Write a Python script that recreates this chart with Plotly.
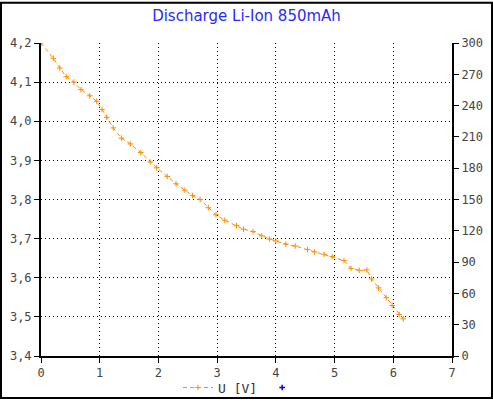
import plotly.graph_objects as go

# discharge curve, time [h] vs voltage [V]
time_h = [0.0, 0.21, 0.32, 0.43, 0.56, 0.68, 0.83, 0.95, 1.04, 1.12, 1.23, 1.37, 1.52,
          1.70, 1.86, 1.97, 2.15, 2.30, 2.45, 2.58, 2.71, 2.85, 2.98, 3.13, 3.33,
          3.45, 3.61, 3.76, 3.89, 4.00, 4.17, 4.33, 4.54, 4.66, 4.82, 4.96, 5.16,
          5.28, 5.42, 5.55, 5.63, 5.75, 5.88, 5.98, 6.10, 6.17]
voltage = [4.200, 4.161, 4.136, 4.114, 4.100, 4.081, 4.065, 4.051, 4.030, 4.010,
           3.983, 3.957, 3.942, 3.920, 3.896, 3.881, 3.859, 3.840, 3.824, 3.810,
           3.800, 3.779, 3.761, 3.747, 3.733, 3.724, 3.718, 3.707, 3.699, 3.694,
           3.686, 3.681, 3.672, 3.666, 3.660, 3.654, 3.644, 3.624, 3.619, 3.620,
           3.597, 3.574, 3.549, 3.529, 3.506, 3.495]

W, H = 493, 415
L, R, T, B = 41, 41, 43, 45
pw, ph = W - L - R, H - T - B

tick_font = dict(family="DejaVu Sans Mono", size=12, color="#444444")
grid_dash = "1px,3px"

fig = go.Figure()

fig.add_trace(go.Scatter(
    x=time_h, y=voltage, name="U [V]", mode="lines+markers",
    line=dict(color="#ff8c00", width=1, dash="4px,3px"),
    marker=dict(symbol="cross-thin", size=4, color="#ff8c00",
                line=dict(color="#ff8c00", width=1)),
))
# empty second series, only visible in the legend
fig.add_trace(go.Scatter(
    x=[None], y=[None], name=" ", mode="markers", yaxis="y2",
    marker=dict(symbol="cross-thin", size=4, color="#0000ff",
                line=dict(color="#0000ff", width=1.5)),
))

fig.update_layout(
    width=W, height=H, autosize=False,
    margin=dict(l=L, r=R, t=T, b=B),
    paper_bgcolor="white", plot_bgcolor="white",
    separators=", ",
    title=dict(text="Discharge Li-Ion 850mAh", x=0.5, xanchor="center",
               y=1 - 16 / H, yanchor="middle",
               font=dict(family="DejaVu Sans", size=15, color="#2a2aff")),
    showlegend=True,
    legend=dict(orientation="h", x=0.5, xanchor="center",
                y=-(403 - 370) / ph, yanchor="middle",
                font=dict(family="DejaVu Sans Mono", size=13, color="#333333"),
                itemwidth=30, bgcolor="rgba(0,0,0,0)"),
    xaxis=dict(range=[0, 7], dtick=1, showgrid=True, gridcolor="black",
               griddash=grid_dash, gridwidth=1, zeroline=False,
               showline=True, linecolor="black", linewidth=2,
               ticks="outside", ticklen=5, tickcolor="black",
               tickfont=tick_font, automargin=False),
    yaxis=dict(range=[3.4, 4.2], dtick=0.1, tickformat=".1f",
               showgrid=True, gridcolor="black", griddash=grid_dash, gridwidth=1,
               zeroline=False, showline=True, linecolor="black", linewidth=2,
               ticks="outside", ticklen=5, tickcolor="black",
               tickfont=tick_font, automargin=False),
    yaxis2=dict(range=[0, 300], dtick=30, overlaying="y", side="right",
                showgrid=False, zeroline=False, showline=True,
                linecolor="black", linewidth=2, ticks="outside", ticklen=5,
                tickcolor="black", tickfont=tick_font, automargin=False),
)

# black frame round the whole picture
fig.add_shape(type="rect", xref="paper", yref="paper",
              x0=-(L - 1) / pw, x1=1 + (R - 1) / pw,
              y0=-(B - 1) / ph, y1=1 + (T - 1) / ph,
              line=dict(color="black", width=2), layer="above")

# drop the default page margin so the chart sits at the window corner
fig.write_html(
    "out.html",
    config={"displayModeBar": False, "responsive": False},
    post_script="document.body.style.margin='0px';",
)
